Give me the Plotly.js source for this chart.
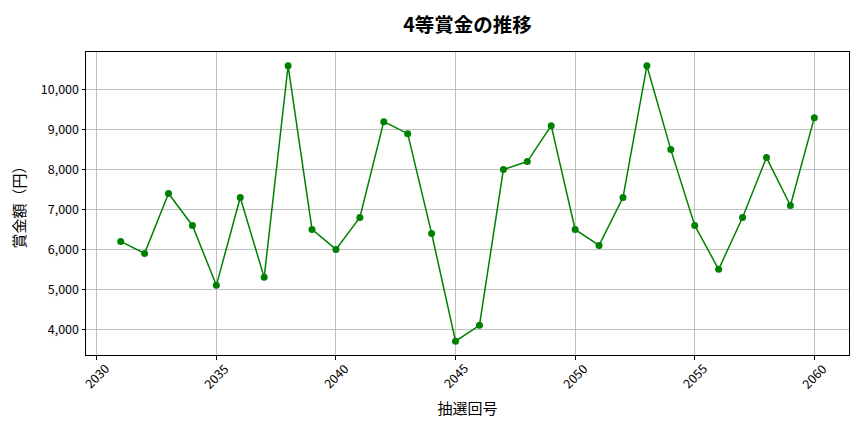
<!DOCTYPE html>
<html>
<head>
<meta charset="utf-8">
<script src="https://cdn.plot.ly/plotly-3.0.1.min.js"></script>
<style>
html,body{margin:0;padding:0;background:#fff;}
#chart{width:864px;height:432px;}
svg text{text-spacing-trim:space-all;font-feature-settings:normal;}
</style>
</head>
<body>
<div id="chart"></div>
<script>
const drawNumbers = [2031,2032,2033,2034,2035,2036,2037,2038,2039,2040,2041,2042,2043,2044,2045,2046,2047,2048,2049,2050,2051,2052,2053,2054,2055,2056,2057,2058,2059,2060];
const prizeValues = [6200,5900,7400,6600,5100,7300,5300,10600,6500,6000,6800,9200,8900,6400,3700,4100,8000,8200,9100,6500,6100,7300,10600,8500,6600,5500,6800,8300,7100,9300];
const xTickVals = [2030,2035,2040,2045,2050,2055,2060];
const yTickVals = [4000,5000,6000,7000,8000,9000,10000];

const fontFamily = '"Noto Sans CJK JP", "Noto Sans", sans-serif';

const trace = {
  x: drawNumbers,
  y: prizeValues,
  type: 'scatter',
  mode: 'lines+markers',
  line: {color: 'green', width: 1.5},
  marker: {color: 'green', size: 7},
  hoverinfo: 'skip'
};

// x tick labels rotated about their centre (as in the original), placed via the x scale
const xLabelAnnotations = xTickVals.map(v => ({
  x: v,
  xref: 'x',
  y: -0.069,
  yref: 'paper',
  text: String(v),
  showarrow: false,
  textangle: -45,
  xanchor: 'center',
  yanchor: 'middle',
  font: {size: 12.5, family: fontFamily, color: '#000'}
}));

const layout = {
  width: 864,
  height: 432,
  margin: {l: 86, r: 15, t: 52, b: 77},
  paper_bgcolor: '#fff',
  plot_bgcolor: '#fff',
  font: {family: fontFamily, color: '#000', size: 12.5},
  showlegend: false,
  title: {text: '<b>4等賞金の推移</b>', font: {size: 19.5, family: fontFamily, color: '#000'}, xref: 'paper', x: 0.5, xanchor: 'center', y: 0.942, yanchor: 'middle'},
  annotations: xLabelAnnotations,
  xaxis: {
    range: [2029.55, 2061.45],
    tickvals: xTickVals,
    showticklabels: false,
    showgrid: true,
    gridcolor: '#b0b0b0',
    gridwidth: 0.8,
    zeroline: false,
    showline: true,
    linecolor: '#000',
    linewidth: 1,
    mirror: true,
    ticks: 'outside',
    ticklen: 3.5,
    tickcolor: '#000',
    title: {text: '抽選回号', font: {size: 15}, standoff: 44}
  },
  yaxis: {
    range: [3355, 10945],
    tickvals: yTickVals,
    ticktext: yTickVals.map(v => v.toLocaleString('en-US')),
    showgrid: true,
    gridcolor: '#b0b0b0',
    gridwidth: 0.8,
    zeroline: false,
    showline: true,
    linecolor: '#000',
    linewidth: 1,
    mirror: true,
    ticks: 'outside',
    ticklen: 3.5,
    tickcolor: '#000',
    tickfont: {size: 12.5},
    title: {text: '賞金額（円）', font: {size: 15}, standoff: 11}
  }
};

Plotly.newPlot('chart', [trace], layout, {displayModeBar: false, staticPlot: true});
</script>
</body>
</html>
